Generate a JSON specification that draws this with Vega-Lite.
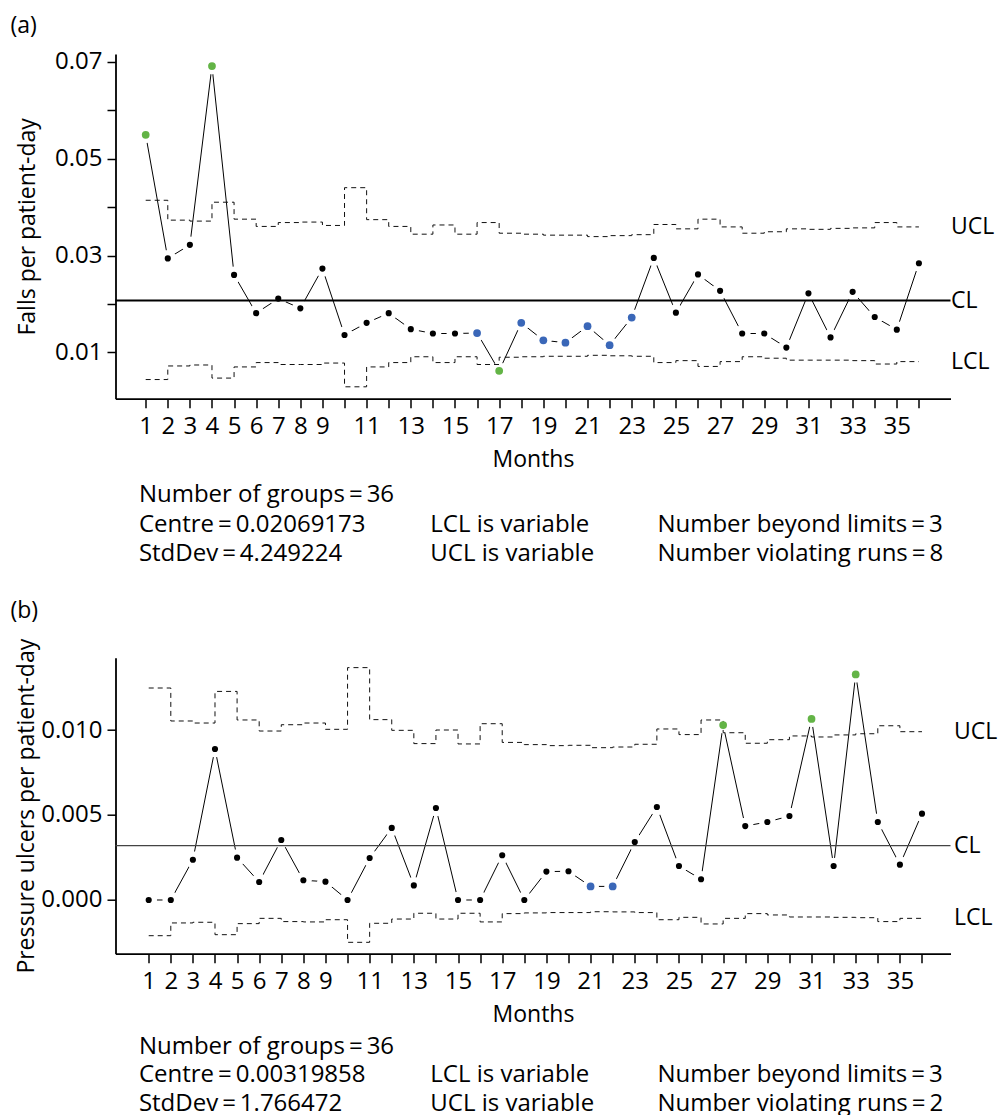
{
  "$schema": "https://vega.github.io/schema/vega-lite/v6.json",
  "padding": {"left": 10.5, "top": 14, "right": 5, "bottom": 0},
  "background": "white",
  "config": {
    "view": {"stroke": null},
    "font": "Open Sans",
    "axis": {
      "domainColor": "black", "domainWidth": 1.8, "tickColor": "black", "tickWidth": 1.5,
      "labelFont": "Open Sans", "labelFontSize": 24, "labelColor": "black",
      "titleFont": "Open Sans", "titleFontSize": 23, "titleFontWeight": "normal", "titleColor": "black",
      "grid": false, "labelFlush": false, "labelOverlap": false
    },
    "title": {"font": "Open Sans", "fontSize": 23, "fontWeight": "normal", "color": "black"},
    "text": {"font": "Open Sans", "fontSize": 24, "color": "black"}
  },
  "datasets": {
    "a": [
      {"month": 1, "value": 0.0549, "ucl": 0.0414, "lcl": 0.0044, "status": "beyond"},
      {"month": 2, "value": 0.0294, "ucl": 0.0373, "lcl": 0.0072, "status": "in"},
      {"month": 3, "value": 0.0322, "ucl": 0.0371, "lcl": 0.0074, "status": "in"},
      {"month": 4, "value": 0.0691, "ucl": 0.0410, "lcl": 0.0047, "status": "beyond"},
      {"month": 5, "value": 0.0260, "ucl": 0.0375, "lcl": 0.0070, "status": "in"},
      {"month": 6, "value": 0.0181, "ucl": 0.0360, "lcl": 0.0079, "status": "in"},
      {"month": 7, "value": 0.0211, "ucl": 0.0368, "lcl": 0.0075, "status": "in"},
      {"month": 8, "value": 0.0191, "ucl": 0.0369, "lcl": 0.0075, "status": "in"},
      {"month": 9, "value": 0.0273, "ucl": 0.0362, "lcl": 0.0078, "status": "in"},
      {"month": 10, "value": 0.0136, "ucl": 0.0440, "lcl": 0.0029, "status": "in"},
      {"month": 11, "value": 0.0161, "ucl": 0.0374, "lcl": 0.0070, "status": "in"},
      {"month": 12, "value": 0.0181, "ucl": 0.0360, "lcl": 0.0079, "status": "in"},
      {"month": 13, "value": 0.0148, "ucl": 0.0344, "lcl": 0.0091, "status": "in"},
      {"month": 14, "value": 0.0139, "ucl": 0.0363, "lcl": 0.0079, "status": "in"},
      {"month": 15, "value": 0.0139, "ucl": 0.0344, "lcl": 0.0091, "status": "in"},
      {"month": 16, "value": 0.0140, "ucl": 0.0368, "lcl": 0.0075, "status": "run"},
      {"month": 17, "value": 0.0062, "ucl": 0.0346, "lcl": 0.0090, "status": "beyond"},
      {"month": 18, "value": 0.0161, "ucl": 0.0344, "lcl": 0.0091, "status": "run"},
      {"month": 19, "value": 0.0125, "ucl": 0.0342, "lcl": 0.0092, "status": "run"},
      {"month": 20, "value": 0.0120, "ucl": 0.0342, "lcl": 0.0092, "status": "run"},
      {"month": 21, "value": 0.0154, "ucl": 0.0339, "lcl": 0.0094, "status": "run"},
      {"month": 22, "value": 0.0115, "ucl": 0.0341, "lcl": 0.0093, "status": "run"},
      {"month": 23, "value": 0.0172, "ucl": 0.0343, "lcl": 0.0092, "status": "run"},
      {"month": 24, "value": 0.0295, "ucl": 0.0364, "lcl": 0.0079, "status": "in"},
      {"month": 25, "value": 0.0182, "ucl": 0.0355, "lcl": 0.0083, "status": "in"},
      {"month": 26, "value": 0.0261, "ucl": 0.0375, "lcl": 0.0071, "status": "in"},
      {"month": 27, "value": 0.0227, "ucl": 0.0359, "lcl": 0.0081, "status": "in"},
      {"month": 28, "value": 0.0139, "ucl": 0.0346, "lcl": 0.0091, "status": "in"},
      {"month": 29, "value": 0.0139, "ucl": 0.0349, "lcl": 0.0088, "status": "in"},
      {"month": 30, "value": 0.0110, "ucl": 0.0355, "lcl": 0.0084, "status": "in"},
      {"month": 31, "value": 0.0222, "ucl": 0.0354, "lcl": 0.0084, "status": "in"},
      {"month": 32, "value": 0.0131, "ucl": 0.0356, "lcl": 0.0084, "status": "in"},
      {"month": 33, "value": 0.0225, "ucl": 0.0357, "lcl": 0.0083, "status": "in"},
      {"month": 34, "value": 0.0173, "ucl": 0.0368, "lcl": 0.0076, "status": "in"},
      {"month": 35, "value": 0.0147, "ucl": 0.0359, "lcl": 0.0081, "status": "in"},
      {"month": 36, "value": 0.0284, "ucl": 0.0359, "lcl": 0.0081, "status": "in"}
    ],
    "b": [
      {"month": 1, "value": 0.0, "ucl": 0.01247, "lcl": -0.0021, "status": "in"},
      {"month": 2, "value": 0.0, "ucl": 0.01053, "lcl": -0.00135, "status": "in"},
      {"month": 3, "value": 0.00237, "ucl": 0.01041, "lcl": -0.00131, "status": "in"},
      {"month": 4, "value": 0.00888, "ucl": 0.01227, "lcl": -0.00204, "status": "in"},
      {"month": 5, "value": 0.00249, "ucl": 0.01059, "lcl": -0.00139, "status": "in"},
      {"month": 6, "value": 0.00106, "ucl": 0.00994, "lcl": -0.00108, "status": "in"},
      {"month": 7, "value": 0.00353, "ucl": 0.01031, "lcl": -0.00127, "status": "in"},
      {"month": 8, "value": 0.00116, "ucl": 0.01041, "lcl": -0.00129, "status": "in"},
      {"month": 9, "value": 0.00108, "ucl": 0.01004, "lcl": -0.00116, "status": "in"},
      {"month": 10, "value": 0.0, "ucl": 0.01367, "lcl": -0.00249, "status": "in"},
      {"month": 11, "value": 0.00247, "ucl": 0.01061, "lcl": -0.00137, "status": "in"},
      {"month": 12, "value": 0.00424, "ucl": 0.00998, "lcl": -0.00112, "status": "in"},
      {"month": 13, "value": 0.00086, "ucl": 0.0092, "lcl": -0.00078, "status": "in"},
      {"month": 14, "value": 0.00541, "ucl": 0.0100, "lcl": -0.00112, "status": "in"},
      {"month": 15, "value": 0.0, "ucl": 0.00918, "lcl": -0.00078, "status": "in"},
      {"month": 16, "value": 0.0, "ucl": 0.01037, "lcl": -0.00129, "status": "in"},
      {"month": 17, "value": 0.00263, "ucl": 0.00927, "lcl": -0.0008, "status": "in"},
      {"month": 18, "value": 0.0, "ucl": 0.00914, "lcl": -0.00076, "status": "in"},
      {"month": 19, "value": 0.00167, "ucl": 0.00908, "lcl": -0.00074, "status": "in"},
      {"month": 20, "value": 0.00169, "ucl": 0.0091, "lcl": -0.00074, "status": "in"},
      {"month": 21, "value": 0.0008, "ucl": 0.00896, "lcl": -0.00069, "status": "run"},
      {"month": 22, "value": 0.0008, "ucl": 0.009, "lcl": -0.0007, "status": "run"},
      {"month": 23, "value": 0.00341, "ucl": 0.00916, "lcl": -0.00074, "status": "in"},
      {"month": 24, "value": 0.00547, "ucl": 0.01006, "lcl": -0.00116, "status": "in"},
      {"month": 25, "value": 0.0020, "ucl": 0.00973, "lcl": -0.00102, "status": "in"},
      {"month": 26, "value": 0.00122, "ucl": 0.01059, "lcl": -0.00141, "status": "in"},
      {"month": 27, "value": 0.01029, "ucl": 0.00984, "lcl": -0.00108, "status": "beyond"},
      {"month": 28, "value": 0.00435, "ucl": 0.00922, "lcl": -0.0008, "status": "in"},
      {"month": 29, "value": 0.00459, "ucl": 0.00943, "lcl": -0.00088, "status": "in"},
      {"month": 30, "value": 0.00494, "ucl": 0.00965, "lcl": -0.001, "status": "in"},
      {"month": 31, "value": 0.01065, "ucl": 0.00959, "lcl": -0.001, "status": "beyond"},
      {"month": 32, "value": 0.0020, "ucl": 0.00971, "lcl": -0.00102, "status": "in"},
      {"month": 33, "value": 0.01327, "ucl": 0.00978, "lcl": -0.00104, "status": "beyond"},
      {"month": 34, "value": 0.00459, "ucl": 0.01025, "lcl": -0.00127, "status": "in"},
      {"month": 35, "value": 0.00208, "ucl": 0.0099, "lcl": -0.00108, "status": "in"},
      {"month": 36, "value": 0.00508, "ucl": 0.0099, "lcl": -0.00108, "status": "in"}
    ],
    "labelsA": [
      {"label": "UCL", "value": 0.0359},
      {"label": "CL", "value": 0.02069173},
      {"label": "LCL", "value": 0.0081}
    ],
    "labelsB": [
      {"label": "UCL", "value": 0.0099},
      {"label": "CL", "value": 0.00319858},
      {"label": "LCL", "value": -0.00108}
    ],
    "statsA": [
      {"at": 0.028, "line": 1, "text": "Number of groups\u2009=\u200936"},
      {"at": 0.028, "line": 2, "text": "Centre\u2009=\u20090.02069173"},
      {"at": 0.377, "line": 2, "text": "LCL is variable"},
      {"at": 0.649, "line": 2, "text": "Number beyond limits\u2009=\u20093"},
      {"at": 0.028, "line": 3, "text": "StdDev\u2009=\u20094.249224"},
      {"at": 0.377, "line": 3, "text": "UCL is variable"},
      {"at": 0.649, "line": 3, "text": "Number violating runs\u2009=\u20098"}
    ],
    "statsB": [
      {"at": 0.028, "line": 1, "text": "Number of groups\u2009=\u200936"},
      {"at": 0.028, "line": 2, "text": "Centre\u2009=\u20090.00319858"},
      {"at": 0.377, "line": 2, "text": "LCL is variable"},
      {"at": 0.649, "line": 2, "text": "Number beyond limits\u2009=\u20093"},
      {"at": 0.028, "line": 3, "text": "StdDev\u2009=\u20091.766472"},
      {"at": 0.377, "line": 3, "text": "UCL is variable"},
      {"at": 0.649, "line": 3, "text": "Number violating runs\u2009=\u20092"}
    ]
  },
  "bounds": "flush",
  "spacing": 258.7,
  "vconcat": [
    {
      "title": {"text": "(a)", "anchor": "start", "frame": "group", "dx": -105, "offset": -6, "baseline": "alphabetic"},
      "width": 835,
      "height": 344.7,
      "resolve": {"scale": {"x": "independent", "y": "independent"}},
      "layer": [
        {
          "layer": [
            {
              "data": {"name": "a"},
              "mark": {"type": "line", "color": "black", "strokeWidth": 1},
              "encoding": {
                "x": {"field": "month", "type": "quantitative", "title": "Months",
                  "scale": {"domain": [-0.367, 37.43], "nice": false, "zero": false},
                  "axis": {"values": [1,2,3,4,5,6,7,8,9,10,11,12,13,14,15,16,17,18,19,20,21,22,23,24,25,26,27,28,29,30,31,32,33,34,35,36],
                    "tickCount": 40,
                    "labelExpr": "indexof(['1','2','3','4','5','6','7','8','9','11','13','15','17','19','21','23','25','27','29','31','33','35'], datum.label) >= 0 ? datum.label : ''",
                    "labelOverlap": false, "labelFlush": false,
                    "tickSize": 9, "labelPadding": 7, "titlePadding": 10}},
                "y": {"field": "value", "type": "quantitative", "title": "Falls per patient-day",
                  "scale": {"domain": [0.000444, 0.07159], "nice": false, "zero": false},
                  "axis": {"values": [0.01, 0.02, 0.03, 0.04, 0.05, 0.06, 0.07], "format": ".2f",
                    "tickCount": 10,
                    "labelExpr": "indexof(['0.01','0.03','0.05','0.07'], datum.label) >= 0 ? datum.label : ''",
                    "labelOverlap": false, "labelFlush": false,
                    "tickSize": 8.5, "labelPadding": 5, "titlePadding": 15}}
              }
            },
            {
              "data": {"name": "a"},
              "mark": {"type": "circle", "color": "white", "opacity": 1, "size": 280},
              "encoding": {"x": {"field": "month", "type": "quantitative"}, "y": {"field": "value", "type": "quantitative"}}
            },
            {
              "data": {"name": "labelsA"},
              "transform": [{"filter": "datum.label == 'CL'"}],
              "mark": {"type": "rule", "color": "black", "strokeWidth": 2},
              "encoding": {"y": {"field": "value", "type": "quantitative"}}
            },
            {
              "data": {"name": "a"},
              "mark": {"type": "line", "interpolate": "step-after", "strokeDash": [5, 4], "strokeWidth": 1, "color": "#111"},
              "encoding": {"x": {"field": "month", "type": "quantitative"}, "y": {"field": "ucl", "type": "quantitative"}}
            },
            {
              "data": {"name": "a"},
              "mark": {"type": "line", "interpolate": "step-after", "strokeDash": [5, 4], "strokeWidth": 1, "color": "#111"},
              "encoding": {"x": {"field": "month", "type": "quantitative"}, "y": {"field": "lcl", "type": "quantitative"}}
            },
            {
              "data": {"name": "a"},
              "mark": {"type": "circle", "opacity": 1},
              "encoding": {
                "x": {"field": "month", "type": "quantitative"},
                "y": {"field": "value", "type": "quantitative"},
                "color": {"field": "status", "type": "nominal", "legend": null,
                  "scale": {"domain": ["in", "beyond", "run"], "range": ["#000000", "#63b446", "#3a67b8"]}},
                "size": {"condition": {"test": "datum.status != 'in'", "value": 60}, "value": 38}
              }
            },
            {
              "data": {"name": "labelsA"},
              "mark": {"type": "text", "align": "left", "baseline": "middle", "fontSize": 23},
              "encoding": {"x": {"datum": 37.45}, "y": {"field": "value", "type": "quantitative"}, "text": {"field": "label"}}
            }
          ]
        },
        {
          "data": {"name": "statsA"},
          "mark": {"type": "text", "align": "left", "baseline": "alphabetic", "fontSize": 24},
          "encoding": {
            "x": {"field": "at", "type": "quantitative", "scale": {"domain": [0, 1], "nice": false, "zero": false}, "axis": null},
            "y": {"field": "line", "type": "quantitative", "scale": {"domain": [-14.381, -2.556], "reverse": true, "nice": false, "zero": false}, "axis": null},
            "text": {"field": "text"}
          }
        }
      ]
    },
    {
      "title": {"text": "(b)", "anchor": "start", "frame": "group", "dx": -105, "offset": -3, "baseline": "alphabetic"},
      "width": 835,
      "height": 296,
      "resolve": {"scale": {"x": "independent", "y": "independent"}},
      "layer": [
        {
          "layer": [
            {
              "data": {"name": "b"},
              "mark": {"type": "line", "color": "black", "strokeWidth": 1},
              "encoding": {
                "x": {"field": "month", "type": "quantitative", "title": "Months",
                  "scale": {"domain": [-0.503, 37.29], "nice": false, "zero": false},
                  "axis": {"values": [1,2,3,4,5,6,7,8,9,10,11,12,13,14,15,16,17,18,19,20,21,22,23,24,25,26,27,28,29,30,31,32,33,34,35,36],
                    "tickCount": 40,
                    "labelExpr": "indexof(['1','2','3','4','5','6','7','8','9','11','13','15','17','19','21','23','25','27','29','31','33','35'], datum.label) >= 0 ? datum.label : ''",
                    "labelOverlap": false, "labelFlush": false,
                    "tickSize": 9, "labelPadding": 7, "titlePadding": 10}},
                "y": {"field": "value", "type": "quantitative", "title": "Pressure ulcers per patient-day",
                  "scale": {"domain": [-0.003159, 0.014253], "nice": false, "zero": false},
                  "axis": {"values": [0, 0.005, 0.01], "format": ".3f", "tickCount": 5,
                    "labelOverlap": false, "labelFlush": false,
                    "tickSize": 8.5, "labelPadding": 5, "titlePadding": 2}}
              }
            },
            {
              "data": {"name": "b"},
              "mark": {"type": "circle", "color": "white", "opacity": 1, "size": 280},
              "encoding": {"x": {"field": "month", "type": "quantitative"}, "y": {"field": "value", "type": "quantitative"}}
            },
            {
              "data": {"name": "labelsB"},
              "transform": [{"filter": "datum.label == 'CL'"}],
              "mark": {"type": "rule", "color": "#444", "strokeWidth": 1.2},
              "encoding": {"y": {"field": "value", "type": "quantitative"}}
            },
            {
              "data": {"name": "b"},
              "mark": {"type": "line", "interpolate": "step-after", "strokeDash": [5, 4], "strokeWidth": 1, "color": "#111"},
              "encoding": {"x": {"field": "month", "type": "quantitative"}, "y": {"field": "ucl", "type": "quantitative"}}
            },
            {
              "data": {"name": "b"},
              "mark": {"type": "line", "interpolate": "step-after", "strokeDash": [5, 4], "strokeWidth": 1, "color": "#111"},
              "encoding": {"x": {"field": "month", "type": "quantitative"}, "y": {"field": "lcl", "type": "quantitative"}}
            },
            {
              "data": {"name": "b"},
              "mark": {"type": "circle", "opacity": 1},
              "encoding": {
                "x": {"field": "month", "type": "quantitative"},
                "y": {"field": "value", "type": "quantitative"},
                "color": {"field": "status", "type": "nominal", "legend": null,
                  "scale": {"domain": ["in", "beyond", "run"], "range": ["#000000", "#63b446", "#3a67b8"]}},
                "size": {"condition": {"test": "datum.status != 'in'", "value": 60}, "value": 38}
              }
            },
            {
              "data": {"name": "labelsB"},
              "mark": {"type": "text", "align": "left", "baseline": "middle", "fontSize": 23},
              "encoding": {"x": {"datum": 37.45}, "y": {"field": "value", "type": "quantitative"}, "text": {"field": "label"}}
            }
          ]
        },
        {
          "data": {"name": "statsB"},
          "mark": {"type": "text", "align": "left", "baseline": "alphabetic", "fontSize": 24},
          "encoding": {
            "x": {"field": "at", "type": "quantitative", "scale": {"domain": [0, 1], "nice": false, "zero": false}, "axis": null},
            "y": {"field": "line", "type": "quantitative", "scale": {"domain": [-12.905, -2.519], "reverse": true, "nice": false, "zero": false}, "axis": null},
            "text": {"field": "text"}
          }
        }
      ]
    }
  ]
}
